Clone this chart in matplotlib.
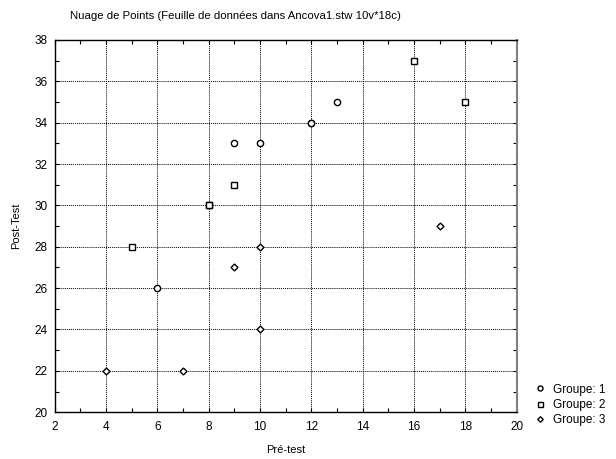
import numpy as np
import matplotlib.pyplot as plt
from matplotlib.ticker import MultipleLocator

plt.rcParams['font.family'] = ['Liberation Sans', 'DejaVu Sans']

# Data (pre-test, post-test) per group
g1_x = [6, 9, 10, 12, 12, 13]
g1_y = [26, 33, 33, 34, 34, 35]
g2_x = [5, 8, 9, 16, 18, 8]
g2_y = [28, 30, 31, 37, 35, 30]
g3_x = [4, 7, 9, 10, 10, 17]
g3_y = [22, 22, 27, 28, 24, 29]

labels = ['Groupe: 1', 'Groupe: 2', 'Groupe: 3']

fig = plt.figure(figsize=(6.16, 4.59), dpi=100)
ax = fig.add_axes([0.089, 0.102, 0.75, 0.811])

kw = dict(ls='none', mfc='white', mec='black', mew=1.0)
ax.plot(g1_x, g1_y, marker='o', ms=4.5, label=labels[0], **kw)
ax.plot(g2_x, g2_y, marker='s', ms=4.5, label=labels[1], **kw)
ax.plot(g3_x, g3_y, marker='D', ms=3.5, label=labels[2], **kw)

ax.set_xlim(2, 20)
ax.set_ylim(20, 38)
ax.xaxis.set_major_locator(MultipleLocator(2))
ax.yaxis.set_major_locator(MultipleLocator(2))
ax.xaxis.set_minor_locator(MultipleLocator(1))
ax.yaxis.set_minor_locator(MultipleLocator(1))
ax.tick_params(which='both', direction='in', top=True, right=True,
               labelsize=8.5, length=3, width=0.8)
ax.tick_params(axis='x', pad=6)
ax.tick_params(axis='y', pad=5)
ax.grid(True, which='major', color='black', ls=(0, (1, 1)), lw=0.7)
ax.set_axisbelow(True)

for s in ['left', 'bottom', 'top']:
    ax.spines[s].set_linewidth(1.0)
ax.spines['right'].set_color('#808080')
ax.spines['right'].set_linewidth(1.5)

ax.set_xlabel('Pré-test', fontsize=8, labelpad=9)
ax.set_ylabel('Post-Test', fontsize=8, labelpad=10)
fig.text(0.382, 0.965, 'Nuage de Points (Feuille de données dans Ancova1.stw 10v*18c)',
         ha='center', va='center', fontsize=8.2)

fig.legend(loc='center left', bbox_to_anchor=(0.866, 0.118), frameon=False,
           fontsize=8.5, handletextpad=0.55, labelspacing=0.28,
           handlelength=1.1, borderaxespad=0, borderpad=0, markerscale=0.8)

fig.savefig('out.png', dpi=100)
